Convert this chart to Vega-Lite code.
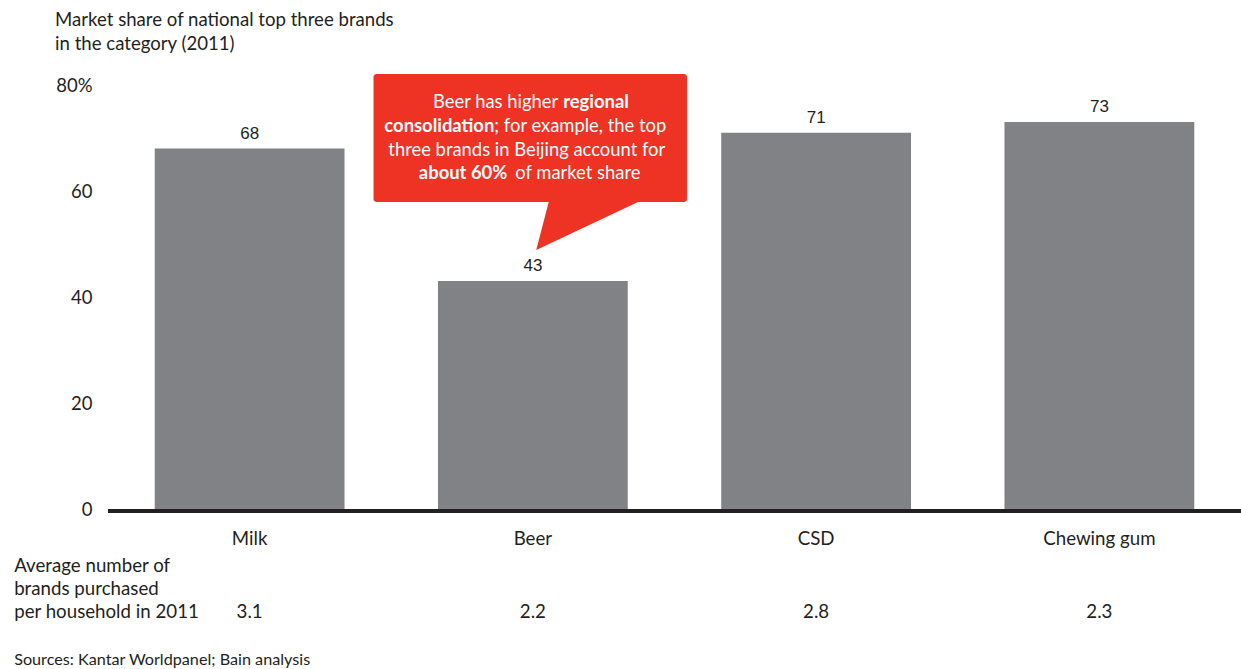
{
  "$schema": "https://vega.github.io/schema/vega-lite/v6.json",
  "width": 1133,
  "height": 424,
  "autosize": "none",
  "padding": {"left": 108, "top": 85, "right": 0, "bottom": 160},
  "background": "white",
  "config": {"view": {"stroke": null}, "font": "Lato", "text": {"color": "#231f20"}},
  "resolve": {"scale": {"x": "independent"}},
  "layer": [
    {
      "data": {
        "values": [
          {"category": "Milk", "share": 68, "brands": "3.1"},
          {"category": "Beer", "share": 43, "brands": "2.2"},
          {"category": "CSD", "share": 71, "brands": "2.8"},
          {"category": "Chewing gum", "share": 73, "brands": "2.3"}
        ]
      },
      "encoding": {
        "x": {
          "field": "category", "type": "nominal", "sort": null,
          "scale": {"paddingInner": 0.33, "paddingOuter": 0.165},
          "axis": {"title": null, "domain": false, "ticks": false, "labelAngle": 0, "labelPadding": 35, "labelBaseline": "alphabetic", "labelFont": "Lato", "labelFontSize": 18.7, "labelColor": "#231f20"}
        },
        "y": {
          "field": "share", "type": "quantitative",
          "scale": {"domain": [0, 80], "nice": false},
          "axis": {"title": null, "domain": false, "ticks": false, "grid": false, "values": [0, 20, 40, 60, 80], "labelExpr": "datum.value == 80 ? '80%' : datum.label", "labelPadding": 16, "labelFont": "Lato", "labelFontSize": 18.5, "labelColor": "#231f20"}
        }
      },
      "layer": [
        {"mark": {"type": "bar", "color": "#818285"}},
        {"mark": {"type": "text", "baseline": "alphabetic", "dy": -10, "font": "Liberation Sans", "fontSize": 17}, "encoding": {"text": {"field": "share"}}},
        {"mark": {"type": "text", "baseline": "alphabetic", "font": "Lato", "fontSize": 18.7}, "encoding": {"y": {"datum": -20.57}, "text": {"field": "brands"}}}
      ]
    },
    {
      "data": {"values": [{}]},
      "layer": [
        {"mark": {"type": "rule", "strokeWidth": 4, "color": "#231f20", "yOffset": 2}, "encoding": {"x": {"datum": 0, "type": "quantitative", "scale": {"domain": [0, 4], "nice": false, "zero": false}, "axis": null}, "x2": {"datum": 4}, "y": {"datum": 0}}},
        {"mark": {"type": "rect", "color": "#ee3224", "cornerRadius": 3}, "encoding": {"x": {"datum": 0.9374, "type": "quantitative", "axis": null}, "x2": {"datum": 2.0441}, "y": {"datum": 82.08}, "y2": {"datum": 57.92}}},
        {"mark": {"type": "point", "filled": true, "color": "#ee3224", "opacity": 1, "strokeWidth": 0, "size": 10000, "shape": "M 0 0 L 0.26 -1.0 L 2.12 -1.0 Z"}, "encoding": {"x": {"datum": 1.5119, "type": "quantitative", "axis": null}, "y": {"datum": 48.87}}},
        {"mark": {"type": "text", "align": "right", "baseline": "alphabetic", "fontSize": 18.4, "color": "white", "text": "Beer has higher"}, "encoding": {"x": {"datum": 1.5894, "type": "quantitative", "axis": null}, "y": {"datum": 75.6}}},
        {"mark": {"type": "text", "align": "left", "baseline": "alphabetic", "fontSize": 18.4, "fontWeight": "bold", "color": "white", "text": "regional"}, "encoding": {"x": {"datum": 1.607, "type": "quantitative", "axis": null}, "y": {"datum": 75.6}}},
        {"mark": {"type": "text", "align": "right", "baseline": "alphabetic", "fontSize": 18.4, "fontWeight": "bold", "color": "white", "text": "consolidation"}, "encoding": {"x": {"datum": 1.3639, "type": "quantitative", "axis": null}, "y": {"datum": 71.19}}},
        {"mark": {"type": "text", "align": "left", "baseline": "alphabetic", "fontSize": 18.4, "color": "white", "text": "; for example, the top"}, "encoding": {"x": {"datum": 1.3639, "type": "quantitative", "axis": null}, "y": {"datum": 71.19}}},
        {"mark": {"type": "text", "align": "center", "baseline": "alphabetic", "fontSize": 18.4, "color": "white", "text": "three brands in Beijing account for"}, "encoding": {"x": {"datum": 1.4784, "type": "quantitative", "axis": null}, "y": {"datum": 66.66}}},
        {"mark": {"type": "text", "align": "right", "baseline": "alphabetic", "fontSize": 18.4, "fontWeight": "bold", "color": "white", "text": "about 60%"}, "encoding": {"x": {"datum": 1.4097, "type": "quantitative", "axis": null}, "y": {"datum": 62.26}}},
        {"mark": {"type": "text", "align": "left", "baseline": "alphabetic", "fontSize": 18.4, "color": "white", "text": "of market share"}, "encoding": {"x": {"datum": 1.4379, "type": "quantitative", "axis": null}, "y": {"datum": 62.26}}},
        {"mark": {"type": "text", "align": "left", "baseline": "alphabetic", "fontSize": 18.6, "lineHeight": 24, "text": ["Market share of national top three brands", "in the category (2011)"]}, "encoding": {"x": {"datum": -0.1868, "type": "quantitative", "axis": null}, "y": {"datum": 91.13}}},
        {"mark": {"type": "text", "align": "left", "baseline": "alphabetic", "fontSize": 18.7, "lineHeight": 23, "text": ["Average number of", "brands purchased", "per household in 2011"]}, "encoding": {"x": {"datum": -0.3313, "type": "quantitative", "axis": null}, "y": {"datum": -11.89}}},
        {"mark": {"type": "text", "align": "left", "baseline": "alphabetic", "fontSize": 16.2, "text": "Sources: Kantar Worldpanel; Bain analysis"}, "encoding": {"x": {"datum": -0.3313, "type": "quantitative", "axis": null}, "y": {"datum": -29.43}}}
      ]
    }
  ]
}
